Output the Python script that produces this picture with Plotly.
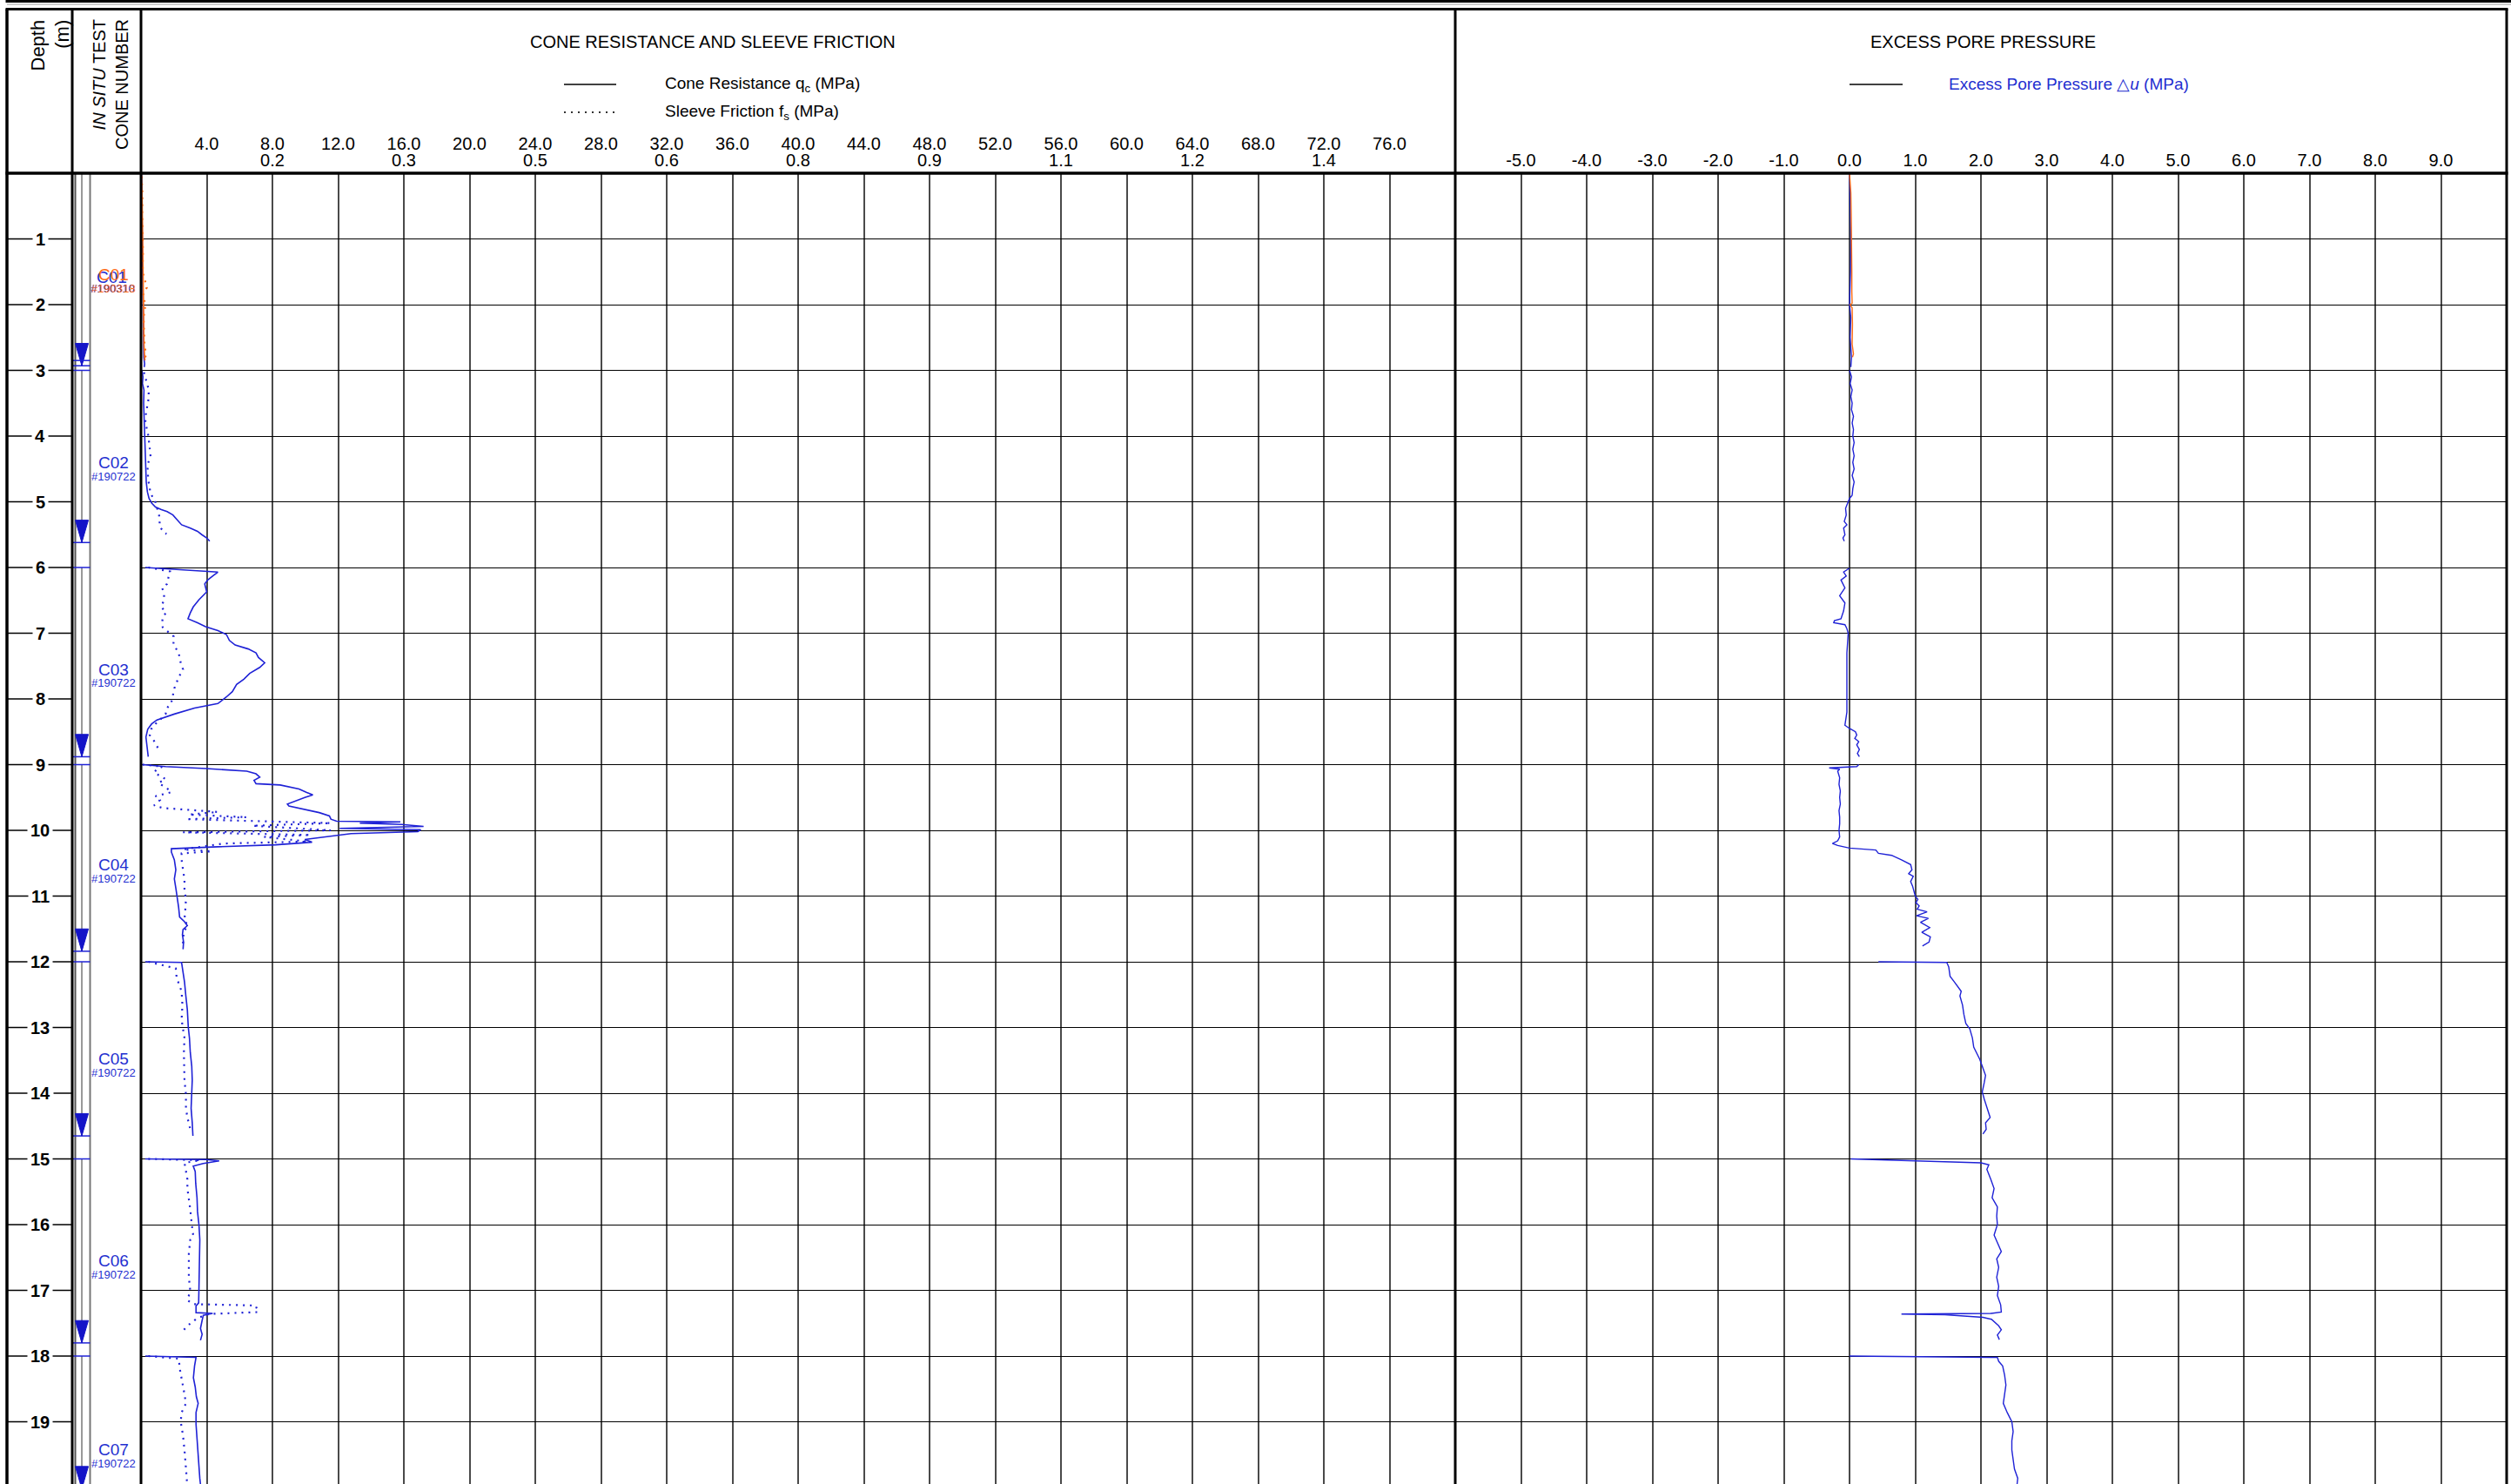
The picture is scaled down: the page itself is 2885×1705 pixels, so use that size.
import plotly.graph_objects as go

# ======================= DATA =======================
cone_names = ["C01", "C02", "C03", "C04", "C05", "C06", "C07"]
cone_ids = ["#190318", "#190722", "#190722", "#190722", "#190722", "#190722", "#190722"]
push_start = [0.0, 3.0, 6.0, 9.0, 12.0, 15.0, 18.0]
push_end = [2.93, 5.62, 8.88, 11.84, 14.65, 17.80, 20.02]
extra_end_lines = [2.85]
cone_label_depth = [1.54, 4.41, 7.55, 10.52, 13.48, 16.55, 19.42]
hidden_label = ["C01", "#190310"]
depth_ticks = list(range(1, 20))

qc_tick_vals = [4, 8, 12, 16, 20, 24, 28, 32, 36, 40, 44, 48, 52, 56, 60, 64, 68, 72, 76]
qc_tick_text = ["4.0", "8.0", "12.0", "16.0", "20.0", "24.0", "28.0", "32.0", "36.0", "40.0",
                "44.0", "48.0", "52.0", "56.0", "60.0", "64.0", "68.0", "72.0", "76.0"]
fs_tick_qc_pos = [8, 16, 24, 32, 40, 48, 56, 64, 72]
fs_tick_text = ["0.2", "0.3", "0.5", "0.6", "0.8", "0.9", "1.1", "1.2", "1.4"]
u_tick_vals = [-5, -4, -3, -2, -1, 0, 1, 2, 3, 4, 5, 6, 7, 8, 9]
u_tick_text = ["-5.0", "-4.0", "-3.0", "-2.0", "-1.0", "0.0", "1.0", "2.0", "3.0",
               "4.0", "5.0", "6.0", "7.0", "8.0", "9.0"]

# --- underlying blue record 0-3 m ---
c00_qc_depth = [0.0, 0.5, 1.0, 1.5, 1.8, 2.0, 2.3, 2.6, 2.8, 2.9, 2.95]
c00_qc = [0.03, 0.05, 0.07, 0.09, 0.10, 0.10, 0.12, 0.15, 0.17, 0.22, 0.20]
c00_u_depth = [0.0, 0.5, 1.0, 1.5, 2.0, 2.2, 2.5, 2.8, 2.95]
c00_u = [0.0, 0.01, 0.02, 0.015, 0.0, 0.02, 0.01, 0.03, 0.02]

# --- C01 (orange) ---
c01_qc_depth = [0.0, 0.2, 0.4, 0.6, 0.8, 1.0, 1.2, 1.4, 1.6, 1.8, 2.0, 2.2, 2.4, 2.6, 2.8, 2.85]
c01_qc = [0.02, 0.06, 0.07, 0.08, 0.09, 0.10, 0.10, 0.11, 0.12, 0.12, 0.13, 0.14, 0.16, 0.18, 0.22, 0.24]
c01_fs_depth = [0.05, 0.3, 0.6, 0.9, 1.2, 1.5, 1.74, 1.85, 2.0, 2.2, 2.4, 2.6, 2.75, 2.85]
c01_fs = [0.0007, 0.0017, 0.0014, 0.0020, 0.0024, 0.0020, 0.0068, 0.0024, 0.0051, 0.0031,
          0.0037, 0.0041, 0.0058, 0.0044]
c01_u_depth = [0.0, 0.3, 0.6, 0.9, 1.2, 1.5, 1.8, 1.98, 2.0, 2.05, 2.3, 2.6, 2.75, 2.8]
c01_u = [0.0, 0.02, 0.025, 0.03, 0.03, 0.035, 0.035, 0.04, 0.01, 0.04, 0.045, 0.04, 0.06, 0.045]

# --- C02 ---
c02_qc_depth = [3.0, 3.1, 3.2, 3.3, 3.5, 3.7, 3.9, 4.1, 4.3, 4.5, 4.7, 4.85, 4.95, 5.02, 5.08,
                5.12, 5.15, 5.2, 5.25, 5.3, 5.35, 5.4, 5.45, 5.5, 5.55, 5.6]
c02_qc = [0.05, 0.12, 0.09, 0.18, 0.16, 0.18, 0.21, 0.23, 0.26, 0.26, 0.32, 0.39, 0.49, 0.65, 0.88,
          1.24, 1.59, 1.94, 2.12, 2.29, 2.47, 3.0, 3.44, 3.7, 4.0, 4.18]
c02_fs_depth = [3.03, 3.30, 3.46, 3.65, 3.79, 3.99, 4.22, 4.31, 4.44, 4.67, 4.87, 5.01, 5.22, 5.38, 5.47, 5.49]
c02_fs = [0.0034, 0.0092, 0.0085, 0.0058, 0.0051, 0.0085, 0.0105, 0.0112, 0.0075, 0.0085, 0.0112,
          0.0170, 0.0214, 0.0221, 0.0271, 0.0299]
c02_u_depth = [3.0, 3.1, 3.2, 3.3, 3.4, 3.5, 3.6, 3.7, 3.8, 3.9, 4.0, 4.1, 4.2, 4.3, 4.4, 4.5, 4.6,
               4.7, 4.8, 4.9, 4.95, 5.0, 5.1, 5.2, 5.3, 5.35, 5.4, 5.5, 5.55, 5.6]
c02_u = [0.0, 0.03, 0.01, 0.04, 0.02, 0.04, 0.03, 0.06, 0.04, 0.06, 0.05, 0.07, 0.05, 0.07, 0.05,
         0.07, 0.04, 0.07, 0.05, 0.04, 0.0, -0.02, -0.06, -0.05, -0.08, -0.04, -0.09, -0.07, -0.10, -0.08]

# --- C03 ---
c03_qc_depth = [6.00, 6.04, 6.07, 6.12, 6.19, 6.25, 6.37, 6.49, 6.60, 6.69, 6.78, 6.84, 6.90, 6.96,
                7.02, 7.11, 7.18, 7.24, 7.30, 7.37, 7.45, 7.52, 7.61, 7.70, 7.78, 7.89, 7.97, 8.07,
                8.14, 8.23, 8.32, 8.38, 8.46, 8.58, 8.73, 8.88]
c03_qc = [0.26, 2.9, 4.68, 4.41, 4.06, 3.88, 4.0, 3.53, 3.18, 3.0, 2.86, 3.44, 3.93, 4.68,
          5.2, 5.38, 5.73, 6.53, 7.0, 7.15, 7.53, 7.23, 6.62, 6.26, 5.82, 5.56, 5.2, 4.68,
          3.26, 2.03, 0.97, 0.65, 0.41, 0.30, 0.35, 0.44]
c03_fs_depth = [6.0, 6.06, 6.16, 6.25, 6.31, 6.40, 6.49, 6.60, 6.69, 6.75, 6.84, 6.91, 7.05, 7.17,
                7.30, 7.45, 7.55, 7.67, 7.84, 7.96, 8.05, 8.14, 8.23, 8.32, 8.38, 8.46, 8.55, 8.64, 8.76]
c03_fs = [0.0085, 0.034, 0.032, 0.0305, 0.0248, 0.027, 0.027, 0.0238, 0.0295, 0.0254, 0.0248, 0.0254,
          0.0383, 0.038, 0.0441, 0.0465, 0.0492, 0.0441, 0.039, 0.0373, 0.0356, 0.0305, 0.0288,
          0.022, 0.017, 0.0119, 0.0102, 0.0153, 0.0204]
c03_u_depth = [6.01, 6.07, 6.13, 6.19, 6.31, 6.43, 6.54, 6.66, 6.78, 6.81, 6.84, 6.87, 6.93, 7.0,
               7.3, 7.6, 7.9, 8.2, 8.4, 8.45, 8.5, 8.55, 8.6, 8.65, 8.7, 8.77, 8.83, 8.88]
c03_u = [0.0, -0.09, -0.05, -0.13, -0.07, -0.15, -0.07, -0.09, -0.13, -0.23, -0.24, -0.07, -0.04, -0.02,
         -0.04, -0.04, -0.04, -0.04, -0.07, 0.0, 0.09, 0.11, 0.08, 0.14, 0.11, 0.15, 0.12, 0.15]

# --- C04 ---
c04_qc_depth = [9.00, 9.03, 9.06, 9.10, 9.14, 9.19, 9.24, 9.29, 9.31, 9.37, 9.42, 9.46, 9.50, 9.55,
                9.60, 9.63, 9.68, 9.73, 9.78, 9.83, 9.86, 9.87, 9.89, 9.91, 9.94, 9.97, 9.99, 10.02,
                10.05, 10.08, 10.14, 10.18, 10.22, 10.25, 10.28, 10.33, 10.45, 10.60, 10.74, 10.88,
                11.02, 11.17, 11.32, 11.39, 11.45, 11.51, 11.59, 11.70, 11.81]
c04_qc = [0.09, 1.5, 3.97, 6.44, 7.0, 7.23, 6.88, 7.0, 8.47, 9.62, 10.06, 10.46, 9.97, 9.44,
          8.91, 9.0, 9.97, 10.85, 11.47, 11.56, 11.91, 15.79, 13.32, 15.88, 17.2, 12.09, 17.03, 16.85,
          12.79, 11.91, 9.97, 10.41, 8.2, 4.68, 1.85, 1.85, 2.03, 2.12, 2.03, 2.12,
          2.21, 2.29, 2.35, 2.65, 2.82, 2.56, 2.52, 2.59, 2.56]
c04_fs_depth = [9.00, 9.03, 9.07, 9.12, 9.17, 9.22, 9.28, 9.36, 9.42, 9.48, 9.54, 9.62, 9.66, 9.70,
                9.72, 9.76, 9.80, 9.83, 9.89, 9.93, 10.00, 10.03, 10.07, 10.10, 10.17, 10.20, 10.29,
                10.32, 10.35, 10.45, 10.60, 10.75, 10.90, 11.05, 11.20, 11.35, 11.45, 11.55, 11.70, 11.80]
c04_fs = [0.0017, 0.0254, 0.0187, 0.0153, 0.0221, 0.0288, 0.0204, 0.0305, 0.0356, 0.017, 0.0221,
          0.0153, 0.0254, 0.0696, 0.0899, 0.056, 0.1239, 0.0526, 0.2223, 0.1306, 0.2223, 0.0492,
          0.1985, 0.1442, 0.1951, 0.0967, 0.0492, 0.0831, 0.0475, 0.0475, 0.0492, 0.0509, 0.0509,
          0.0526, 0.0519, 0.0509, 0.0543, 0.0499, 0.0492, 0.0485]
c04_u_depth = [9.0, 9.03, 9.05, 9.07, 9.1, 9.2, 9.3, 9.4, 9.5, 9.6, 9.7, 9.8, 9.9, 10.0, 10.1, 10.16,
               10.2, 10.23, 10.27, 10.3, 10.35, 10.38, 10.45, 10.52, 10.6, 10.66, 10.7, 10.78, 10.85,
               10.95, 11.0, 11.05, 11.1, 11.15, 11.2, 11.24, 11.27, 11.3, 11.34, 11.4, 11.48, 11.55,
               11.62, 11.7, 11.76]
c04_u = [0.14, 0.11, -0.31, -0.15, -0.18, -0.15, -0.16, -0.14, -0.15, -0.14, -0.16, -0.15, -0.15,
         -0.16, -0.15, -0.18, -0.26, -0.18, 0.0, 0.40, 0.44, 0.64, 0.79, 0.93, 0.95, 0.90, 0.97, 0.93,
         0.96, 0.99, 1.0, 1.04, 1.01, 1.06, 1.03, 1.18, 1.10, 1.02, 1.20, 1.08, 1.22, 1.10, 1.23,
         1.21, 1.11]

# --- C05 ---
c05_qc_depth = [12.0, 12.01, 12.16, 12.31, 12.52, 12.73, 13.0, 13.16, 13.38, 13.59, 13.8, 14.02,
                14.23, 14.45, 14.65]
c05_qc = [0.26, 2.47, 2.56, 2.65, 2.73, 2.82, 2.88, 2.95, 3.0, 3.09, 3.12, 3.09, 3.05, 3.12, 3.16]
c05_fs_depth = [12.0, 12.1, 12.24, 12.45, 12.66, 12.88, 13.02, 13.16, 13.38, 13.59, 13.8, 14.02,
                14.23, 14.37, 14.48, 14.55]
c05_fs = [0.0085, 0.0407, 0.0417, 0.0475, 0.0485, 0.0475, 0.0492, 0.0509, 0.0502, 0.0502, 0.0509,
          0.0526, 0.0526, 0.0543, 0.056, 0.0577]
c05_u_depth = [12.0, 12.01, 12.08, 12.22, 12.3, 12.45, 12.52, 12.66, 12.8, 12.94, 13.02, 13.16, 13.3,
               13.48, 13.59, 13.73, 13.84, 13.98, 14.09, 14.23, 14.37, 14.45, 14.55, 14.62]
c05_u = [0.44, 1.48, 1.51, 1.53, 1.59, 1.70, 1.68, 1.72, 1.74, 1.77, 1.83, 1.87, 1.89, 1.98, 2.02,
         2.07, 2.05, 2.02, 2.05, 2.09, 2.14, 2.07, 2.08, 2.03]

# --- C06 ---
c06_qc_depth = [15.0, 15.01, 15.03, 15.07, 15.11, 15.19, 15.37, 15.59, 15.8, 16.01, 16.23, 16.44,
                16.65, 16.94, 17.19, 17.24, 17.34, 17.35, 17.38, 17.47, 17.58, 17.67, 17.76]
c06_qc = [0.26, 3.97, 4.76, 3.79, 3.18, 3.3, 3.33, 3.41, 3.44, 3.53, 3.58, 3.58, 3.55, 3.53, 3.51,
          3.35, 3.35, 4.36, 3.79, 3.71, 3.62, 3.72, 3.62]
c06_fs_depth = [15.0, 15.02, 15.06, 15.17, 15.31, 15.45, 15.59, 15.77, 15.99, 16.16, 16.23, 16.44,
                16.58, 16.8, 17.01, 17.15, 17.21, 17.23, 17.33, 17.36, 17.42, 17.54, 17.64]
c06_fs = [0.0085, 0.0696, 0.0509, 0.0526, 0.0543, 0.0543, 0.056, 0.0577, 0.0594, 0.0611, 0.0577,
          0.056, 0.056, 0.056, 0.0577, 0.0543, 0.0611, 0.134, 0.1374, 0.0797, 0.0662, 0.0543, 0.0475]
c06_u_depth = [15.0, 15.06, 15.09, 15.16, 15.31, 15.45, 15.59, 15.73, 15.87, 16.0, 16.16, 16.3, 16.41,
               16.52, 16.65, 16.8, 16.94, 17.08, 17.22, 17.33, 17.35, 17.36, 17.37, 17.41, 17.44,
               17.54, 17.6, 17.68, 17.75]
c06_u = [0.02, 2.0, 2.12, 2.09, 2.15, 2.2, 2.17, 2.25, 2.24, 2.25, 2.2, 2.26, 2.31, 2.24, 2.27, 2.24,
         2.27, 2.25, 2.3, 2.31, 2.16, 0.79, 1.45, 2.03, 2.16, 2.27, 2.31, 2.25, 2.28]

# --- C07 ---
c07_qc_depth = [18.0, 18.02, 18.15, 18.33, 18.47, 18.62, 18.72, 18.86, 19.04, 19.29, 19.58, 19.86, 19.95]
c07_qc = [0.26, 3.35, 3.26, 3.19, 3.3, 3.37, 3.48, 3.35, 3.35, 3.41, 3.48, 3.58, 3.62]
c07_fs_depth = [18.0, 18.04, 18.22, 18.44, 18.58, 18.72, 18.86, 19.0, 19.21, 19.43, 19.64, 19.82, 19.95]
c07_fs = [0.0085, 0.0441, 0.0458, 0.0492, 0.0509, 0.0526, 0.0475, 0.0465, 0.0492, 0.0509, 0.0526,
          0.0533, 0.054]
c07_u_depth = [18.0, 18.02, 18.08, 18.15, 18.29, 18.44, 18.58, 18.72, 18.86, 19.0, 19.15, 19.29,
               19.43, 19.57, 19.72, 19.86, 19.95]
c07_u = [0.0, 2.25, 2.27, 2.33, 2.36, 2.38, 2.36, 2.34, 2.40, 2.47, 2.49, 2.47, 2.47, 2.49, 2.51,
         2.56, 2.55]

FS_RATIO = 52.0  # qc-scale / fs-scale of the header

# ======================= STYLE / FRAME =======================
W, H = 2885, 1705
BLUE = "#1f22d6"
ORANGE = "#ff6a13"
TXT_BLUE = "#1f2fd0"
FONT = "Liberation Sans, Arial, sans-serif"
X_LEFT, X_DEPTH, X_INSITU, X_MID, X_RIGHT = 8, 83, 162, 1672, 2880
Y_HEAD_TOP, Y_PLOT_TOP = 10.5, 199
PX_PER_M = 75.5
D_MAX = (H - Y_PLOT_TOP) / PX_PER_M
PIPE_L, PIPE_R, PIPE_C = 86.5, 103.5, 94


def px(x):
    return x / W


def py(y):
    return 1 - y / H


fig = go.Figure()


def add_cone(d_qc, qc, d_fs, fs, d_u, u, color):
    fig.add_trace(go.Scatter(x=qc, y=d_qc, xaxis="x", yaxis="y", mode="lines",
                             line=dict(color=color, width=1.6), hoverinfo="skip"))
    if fs:
        fig.add_trace(go.Scatter(x=fs, y=d_fs, xaxis="x4", yaxis="y", mode="lines",
                                 line=dict(color=color, width=2.2, dash="2px,6px"), hoverinfo="skip"))
    fig.add_trace(go.Scatter(x=u, y=d_u, xaxis="x2", yaxis="y", mode="lines",
                             line=dict(color=color, width=1.4), hoverinfo="skip"))


add_cone(c00_qc_depth, c00_qc, None, None, c00_u_depth, c00_u, BLUE)
add_cone(c01_qc_depth, c01_qc, c01_fs_depth, c01_fs, c01_u_depth, c01_u, ORANGE)
add_cone(c02_qc_depth, c02_qc, c02_fs_depth, c02_fs, c02_u_depth, c02_u, BLUE)
add_cone(c03_qc_depth, c03_qc, c03_fs_depth, c03_fs, c03_u_depth, c03_u, BLUE)
add_cone(c04_qc_depth, c04_qc, c04_fs_depth, c04_fs, c04_u_depth, c04_u, BLUE)
add_cone(c05_qc_depth, c05_qc, c05_fs_depth, c05_fs, c05_u_depth, c05_u, BLUE)
add_cone(c06_qc_depth, c06_qc, c06_fs_depth, c06_fs, c06_u_depth, c06_u, BLUE)
add_cone(c07_qc_depth, c07_qc, c07_fs_depth, c07_fs, c07_u_depth, c07_u, BLUE)

shapes = []
annotations = []

# --- in-situ column pipe ---
for xx, col in [(PIPE_L, "#555555"), (PIPE_R, "#777777")]:
    shapes.append(dict(type="line", xref="x3", yref="y2", x0=xx, x1=xx, y0=0, y1=D_MAX,
                       line=dict(color=col, width=2)))


def blue_bar(d):
    shapes.append(dict(type="line", xref="x3", yref="y2", x0=X_DEPTH + 1, x1=PIPE_R, y0=d, y1=d,
                       line=dict(color=BLUE, width=1.5)))


# blue label partly hidden beneath the orange C01 label
annotations.append(dict(xref="paper", yref="y2", x=px(128), y=cone_label_depth[0] + 0.04,
                        xanchor="center", yanchor="middle", text=hidden_label[0], showarrow=False,
                        font=dict(family=FONT, size=19, color=TXT_BLUE)))
annotations.append(dict(xref="paper", yref="y2", x=px(129), y=cone_label_depth[0] + 0.21,
                        xanchor="center", yanchor="middle", text=hidden_label[1], showarrow=False,
                        font=dict(family=FONT, size=13, color=TXT_BLUE)))

for k in range(len(push_start)):
    s, e = push_start[k], push_end[k]
    shapes.append(dict(type="line", xref="x3", yref="y2", x0=PIPE_C, x1=PIPE_C, y0=s, y1=e,
                       line=dict(color="#777777", width=1.5)))
    blue_bar(s)
    blue_bar(e)
    shapes.append(dict(type="path", xref="x3", yref="y2",
                       path=f"M {PIPE_C - 7.5},{e - 0.34} L {PIPE_C + 7.5},{e - 0.34} L {PIPE_C},{e} Z",
                       fillcolor="#1414c8", line=dict(color="#1414c8", width=1)))
    col = ORANGE if k == 0 else TXT_BLUE
    annotations.append(dict(xref="paper", yref="y2", x=px(130), y=cone_label_depth[k],
                            xanchor="center", yanchor="middle", text=cone_names[k], showarrow=False,
                            font=dict(family=FONT, size=19, color=col)))
    annotations.append(dict(xref="paper", yref="y2", x=px(130), y=cone_label_depth[k] + 0.21,
                            xanchor="center", yanchor="middle", text=cone_ids[k], showarrow=False,
                            font=dict(family=FONT, size=13, color=col)))
for d in extra_end_lines:
    blue_bar(d)

# --- depth column ticks ---
for d in depth_ticks:
    shapes.append(dict(type="line", xref="paper", yref="y2", x0=px(X_LEFT), x1=px(X_DEPTH), y0=d, y1=d,
                       line=dict(color="black", width=1.5)))
    annotations.append(dict(xref="paper", yref="y2", x=px(46), y=d, xanchor="center", yanchor="middle",
                            text=f"<b>{d}</b>", showarrow=False, bgcolor="white", borderpad=3,
                            font=dict(family=FONT, size=20, color="black")))


# --- frame lines ---
def hline(y, x0, x1, w, col="black"):
    shapes.append(dict(type="line", xref="paper", yref="paper", x0=px(x0), x1=px(x1),
                       y0=py(y), y1=py(y), line=dict(color=col, width=w)))


def vline(x, y0, y1, w, col="black"):
    shapes.append(dict(type="line", xref="paper", yref="paper", x0=px(x), x1=px(x),
                       y0=py(y0), y1=py(y1), line=dict(color=col, width=w)))


hline(1.5, X_LEFT - 1.5, W, 3)
hline(5, X_LEFT, W, 1, "#999999")
hline(Y_HEAD_TOP, X_LEFT - 1.5, X_RIGHT + 1.5, 3)
hline(Y_PLOT_TOP, X_LEFT - 1.5, X_RIGHT + 1.5, 3.5)
vline(X_LEFT, Y_HEAD_TOP, H, 3.5)
vline(X_DEPTH, Y_HEAD_TOP, H, 3)
vline(X_INSITU, Y_HEAD_TOP, H, 3)
vline(X_MID, Y_HEAD_TOP, H, 3)
vline(X_RIGHT, Y_HEAD_TOP, H, 3)

# --- header texts ---
annotations += [
    dict(xref="paper", yref="paper", x=px(58), y=py(20), xanchor="center", yanchor="top",
         text="Depth<br>(m)", textangle=-90, align="right", showarrow=False,
         font=dict(family=FONT, size=22, color="black")),
    dict(xref="paper", yref="paper", x=px(127), y=py(20), xanchor="center", yanchor="top",
         text="<i>IN SITU</i> TEST<br>CONE NUMBER", textangle=-90, align="right", showarrow=False,
         font=dict(family=FONT, size=20, color="black")),
    dict(xref="paper", yref="paper", x=px(607), y=py(48), xanchor="left", yanchor="middle",
         text="CONE RESISTANCE AND SLEEVE FRICTION", showarrow=False,
         font=dict(family=FONT, size=20, color="black")),
    dict(xref="paper", yref="paper", x=px(762), y=py(97), xanchor="left", yanchor="middle",
         text="Cone Resistance q<sub>c</sub> (MPa)", showarrow=False,
         font=dict(family=FONT, size=19, color="black")),
    dict(xref="paper", yref="paper", x=px(762), y=py(129), xanchor="left", yanchor="middle",
         text="Sleeve Friction f<sub>s</sub> (MPa)", showarrow=False,
         font=dict(family=FONT, size=19, color="black")),
    dict(xref="paper", yref="paper", x=px(2278), y=py(48), xanchor="center", yanchor="middle",
         text="EXCESS PORE PRESSURE", showarrow=False,
         font=dict(family=FONT, size=20, color="black")),
    dict(xref="paper", yref="paper", x=px(2237), y=py(97), xanchor="left", yanchor="middle",
         text="Excess Pore Pressure \u25b3<i>u</i> (MPa)", showarrow=False,
         font=dict(family=FONT, size=19, color=TXT_BLUE)),
]
hline(97, 648, 708, 1.5)
shapes.append(dict(type="line", xref="paper", yref="paper", x0=px(648), x1=px(708), y0=py(129), y1=py(129),
                   line=dict(color="#333333", width=1.8, dash="2px,6px")))
hline(97, 2125, 2186, 1.5)

tickfont = dict(family=FONT, size=20, color="black")
ydom = [0, py(Y_PLOT_TOP)]

fig.update_layout(
    width=W, height=H, margin=dict(l=0, r=0, t=0, b=0),
    paper_bgcolor="white", plot_bgcolor="white", showlegend=False,
    xaxis=dict(domain=[px(X_INSITU), px(X_MID)], range=[0, 80], side="top", anchor="y",
               tickvals=qc_tick_vals, ticktext=qc_tick_text, tickfont=tickfont, ticks="",
               ticklabelstandoff=22,
               showgrid=True, gridcolor="#4a4a4a", gridwidth=1.6, zeroline=False, showline=False,
               fixedrange=True),
    xaxis4=dict(overlaying="x", anchor="y", range=[0, 80 / FS_RATIO], side="top",
                tickvals=[v / FS_RATIO for v in fs_tick_qc_pos], ticktext=fs_tick_text,
                tickfont=tickfont, ticks="", ticklabelstandoff=3,
                showgrid=False, zeroline=False, showline=False, fixedrange=True),
    xaxis2=dict(domain=[px(X_MID), px(X_RIGHT)], range=[-6, 10], side="top", anchor="y",
                tickvals=u_tick_vals, ticktext=u_tick_text, tickfont=tickfont, ticks="",
                ticklabelstandoff=3,
                showgrid=True, gridcolor="#4a4a4a", gridwidth=1.6, zeroline=False, showline=False,
                fixedrange=True),
    xaxis3=dict(domain=[px(X_DEPTH), px(X_INSITU)], range=[X_DEPTH, X_INSITU], anchor="y2",
                visible=False, fixedrange=True),
    yaxis=dict(domain=ydom, range=[D_MAX, 0], anchor="x", tickvals=depth_ticks,
               showticklabels=False, ticks="", showgrid=True, gridcolor="black", gridwidth=1.3,
               zeroline=False, showline=False, fixedrange=True),
    yaxis2=dict(domain=ydom, range=[D_MAX, 0], anchor="x3", visible=False, showgrid=False,
                zeroline=False, fixedrange=True),
    shapes=shapes, annotations=annotations,
)

fig.write_html("out.html", config={"displayModeBar": False},
               post_script="document.body.style.margin='0px';document.body.style.overflow='hidden';")
